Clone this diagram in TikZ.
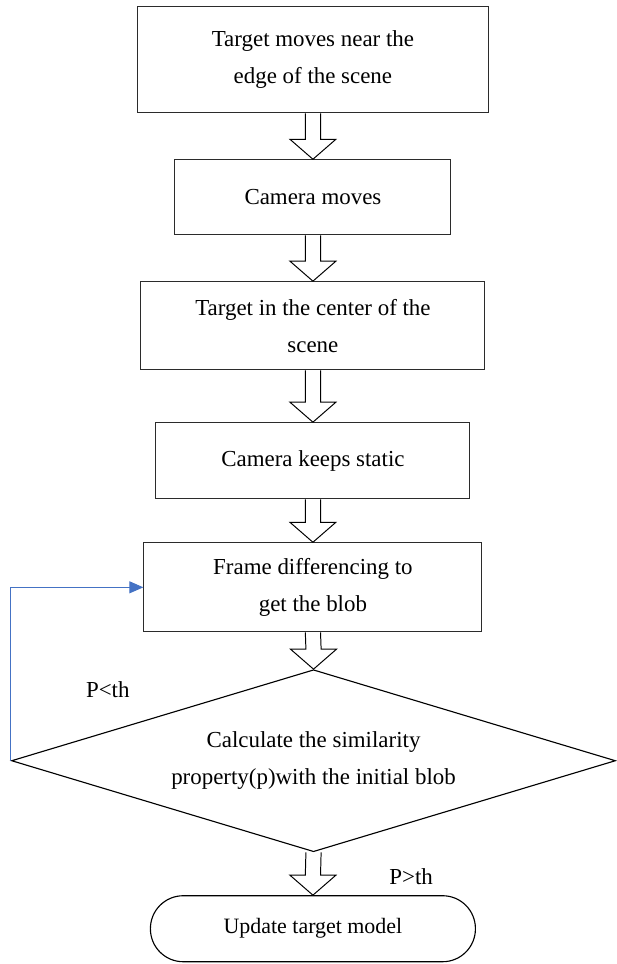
\documentclass[tikz,border=0pt]{standalone}
\usepackage{fontspec}
\setmainfont{Liberation Serif}
\usetikzlibrary{arrows.meta,calc,shapes.geometric}
\definecolor{FlowInk}{HTML}{2B2B2B}
\definecolor{FlowBlue}{HTML}{4472C4}
\tikzset{
  stepbox/.style={draw=FlowInk,line width=.8pt,align=center,inner sep=0pt,font=\fontsize{16.3}{26.5}\selectfont},
  decision/.style={stepbox,draw=black,shape=diamond,aspect=3.3},
  terminal/.style={stepbox,draw=black,rounded corners=.82cm,font=\fontsize{15.6}{26}\selectfont},
  hollow/.style={draw=black,line width=.7pt,fill=white,line join=miter},
  loopline/.style={draw=FlowBlue,line width=.7pt,-{Triangle[length=.35cm,width=.3cm]}},
  guard/.style={font=\fontsize{16.3}{26}\selectfont}
}
% block arrow from the south of #1 to the north of #2
\newcommand{\hollowarrow}[2]{%
  \draw[hollow] ($(#1.south)+(-.19,0)$) -- ($(#2.north)+(-.19,.5)$) -- ($(#2.north)+(-.575,.5)$)
    -- (#2.north) -- ($(#2.north)+(.575,.5)$) -- ($(#2.north)+(.19,.5)$) -- ($(#1.south)+(.19,0)$);}

\begin{document}
\begin{tikzpicture}
\node[minimum width=15.425cm,minimum height=24.1cm,inner sep=0pt] (pg) at (7.7125,-12.05) {};
\node[stepbox,minimum width=8.775cm,minimum height=2.65cm] (edge) at ($(pg.north west)+(7.83,-1.5)$) {Target moves near the\\ edge of the scene};
\node[stepbox,minimum width=6.9cm,minimum height=1.875cm] (cammove) at ($(pg.north west)+(7.83,-4.94)$) {Camera moves};
\node[stepbox,minimum width=8.6cm,minimum height=2.2cm] (center) at ($(pg.north west)+(7.83,-8.15)$) {Target in the center of the\\scene};
\node[stepbox,minimum width=7.85cm,minimum height=1.9cm] (camstatic) at ($(pg.north west)+(7.83,-11.525)$) {Camera keeps static};
\node[stepbox,minimum width=8.45cm,minimum height=2.225cm] (frame) at ($(pg.north west)+(7.83,-14.69)$) {Frame differencing to\\get the blob};
\node[decision,minimum width=15.1cm,minimum height=4.55cm] (check) at ($(pg.north west)+(7.845,-19.025)$) {Calculate the similarity\\property(p)with the initial blob};
\node[terminal,minimum width=8.125cm,minimum height=1.65cm] (update) at ($(pg.north west)+(7.83,-23.225)$) {Update target model};

\hollowarrow{edge}{cammove}
\hollowarrow{cammove}{center}
\hollowarrow{center}{camstatic}
\hollowarrow{camstatic}{frame}
\hollowarrow{frame}{check}
\hollowarrow{check}{update}

\draw[loopline] (check.west) |- (frame.west);
\node[guard] (less) at ($(check.west)+(2.42,1.78)$) {P<th};
\node[guard] (more) at ($(check.south)+(2.44,-.62)$) {P>th};
\end{tikzpicture}
\end{document}
